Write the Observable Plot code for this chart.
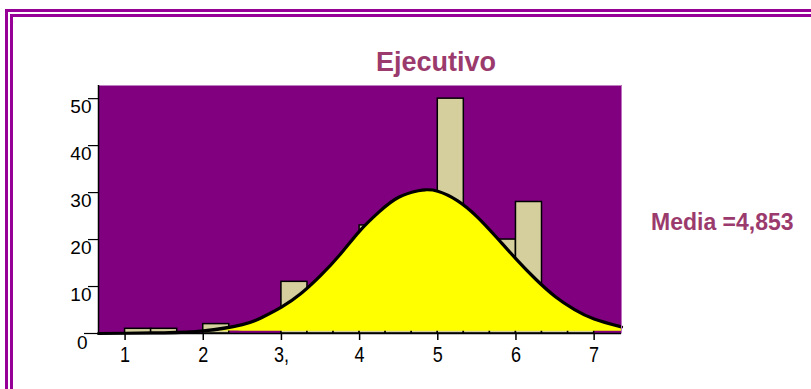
<!DOCTYPE html>
<html>
<head>
<meta charset="utf-8">
<script src="https://cdn.jsdelivr.net/npm/d3@7"></script>
<script src="https://cdn.jsdelivr.net/npm/@observablehq/plot@0.6"></script>
<style>
  html, body { margin: 0; padding: 0; background: #fff; overflow: hidden; }
  #wrap { position: relative; width: 811px; height: 389px; }
  .b1 { position: absolute; left: 5px; top: 9px; width: 900px; height: 500px;
        border-left: 3px solid #960096; border-top: 3px solid #960096; box-sizing: border-box; }
  .b2 { position: absolute; left: 10px; top: 14px; width: 900px; height: 500px;
        border-left: 3px solid #960096; border-top: 3px solid #960096; box-sizing: border-box; }
  #title { position: absolute; left: 286px; width: 300px; top: 47px; text-align: center;
           font: bold 27px "Liberation Sans", Arial, sans-serif; color: #9b3a6c; }
  #media { position: absolute; left: 651px; top: 209px;
           font: bold 23px "Liberation Sans", Arial, sans-serif; color: #9b3a6c; white-space: nowrap; }
  #chart { position: absolute; left: 0; top: 0; }
</style>
</head>
<body>
<div id="wrap">
  <div id="chart"></div>
  <div class="b1"></div>
  <div class="b2"></div>
  <div id="title">Ejecutivo</div>
  <div id="media">Media =4,853</div>
</div>
<script>
// Histogram bins (lower and upper edges) and counts
const binLo  = [1.000, 1.333, 2.000, 3.000, 3.333, 3.667, 4.000, 4.333, 4.667, 5.000, 5.333, 5.667, 6.000, 6.333, 6.667];
const binHi  = [1.333, 1.667, 2.333, 3.333, 3.667, 4.000, 4.333, 4.667, 5.000, 5.333, 5.667, 6.000, 6.333, 6.667, 7.000];
const counts = [1, 1, 2, 11, 9, 14, 23, 25, 28, 50, 19, 20, 28, 5, 1];

// Fitted normal curve
const curveX = [0.66, 1.0, 1.5, 2.0, 2.5, 2.75, 3.0, 3.25, 3.5, 3.75, 4.0, 4.25, 4.5, 4.75, 4.85, 5.0, 5.25, 5.5, 5.75, 6.0, 6.25, 6.5, 6.75, 7.0, 7.35];
const curveY = [0.0, 0.05, 0.15, 0.55, 1.9, 3.4, 5.6, 8.5, 12.3, 16.8, 21.8, 25.9, 29.0, 30.4, 30.6, 30.3, 28.3, 24.9, 20.5, 15.9, 11.6, 7.9, 5.1, 3.1, 1.4];

// Axis ticks
const xTicks = [1, 2, 3, 4, 5, 6, 7];
const xTickLabels = ["1", "2", "3,", "4", "5", "6", "7"];
const yTicks = [10, 20, 30, 40, 50];

const bins = binLo.map((lo, i) => ({lo, hi: binHi[i], n: counts[i]}));
const curve = curveX.map((x, i) => ({x, y: curveY[i]}));
const xDomain = [0.66, 7.35];
const yDomain = [0, 52.8];

const chart = Plot.plot({
  width: 811,
  height: 389,
  marginLeft: 98,
  marginRight: 190,
  marginTop: 85,
  marginBottom: 56,
  style: {fontFamily: "'Liberation Sans', Arial, sans-serif", fontSize: "19px", color: "#000", background: "transparent"},
  x: {domain: xDomain},
  y: {domain: yDomain},
  marks: [
    Plot.frame({fill: "#800080", stroke: null}),
    Plot.rectY(bins, {x1: "lo", x2: "hi", y: "n", fill: "#d4cf9d", stroke: "#000", strokeWidth: 1.5}),
    Plot.areaY(curve, {x: "x", y1: d => Math.min(0.5, d.y), y2: "y", fill: "#ffff00", curve: "natural"}),
    Plot.lineY(curve, {x: "x", y: "y", stroke: "#000", strokeWidth: 3.2, curve: "natural"}),
    Plot.ruleX([xDomain[0]], {stroke: "#000", strokeWidth: 1.5}),
    Plot.ruleX([xDomain[1]], {stroke: "#c070c0", strokeWidth: 1}),
    Plot.ruleY([0], {stroke: "#000", strokeWidth: 1.5}),
    Plot.axisX(xTicks, {tickSize: 7, strokeWidth: 1.5, tickFormat: () => "", label: null}),
    Plot.axisX(xTicks, {tickSize: 0, tickPadding: 13, tickFormat: (d, i) => xTickLabels[i], label: null, fontSize: 22, className: "xlab"}),
    // y tick lines
    Plot.axisY(yTicks, {tickSize: 10, strokeWidth: 1.2, tickFormat: () => "", label: null}),
    Plot.axisY([0], {tickSize: 14, strokeWidth: 1.2, tickFormat: () => "", label: null}),
    // y tick labels, set below their ticks as in the original
    Plot.axisY(yTicks, {tickSize: 0, tickPadding: 7, dy: 8, label: null, fontSize: 19}),
    Plot.axisY([0], {tickSize: 0, tickPadding: 11, dy: 9, label: null, fontSize: 19})
  ]
});
// narrow the x tick labels horizontally, as in the original
chart.querySelectorAll(".xlab text").forEach(t => {
  const tr = t.getAttribute("transform") || "";
  t.setAttribute("transform", tr + " scale(0.82,1)");
});
document.getElementById("chart").appendChild(chart);
</script>
</body>
</html>
